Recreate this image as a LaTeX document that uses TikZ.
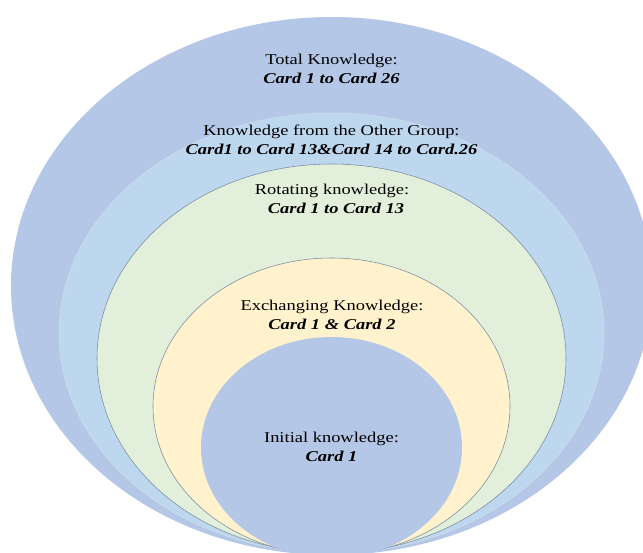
\documentclass[tikz,border=0pt]{standalone}
\usepackage{fontspec}
\setmainfont{Liberation Serif}
\newfontfamily\wideserif[FakeStretch=1.23]{Liberation Serif}
\definecolor{outerblue}{HTML}{B4C7E7}
\definecolor{lightblue}{HTML}{BDD7EE}
\definecolor{palegreen}{HTML}{E2EFDA}
\definecolor{paleyellow}{HTML}{FFF2CC}
\definecolor{rimline}{HTML}{7A8AA3}
\definecolor{softrim}{HTML}{D3DCE8}
\tikzset{
  lbl/.style={align=center, font=\wideserif\fontsize{15}{19}\selectfont, inner sep=0pt, text=black},
  rim/.style={draw=rimline, line width=0.55pt},
}
\newcommand{\crd}[1]{\textbf{\textit{#1}}}
\begin{document}
\begin{tikzpicture}[x=1pt,y=-1pt]
\useasboundingbox (0,0) rectangle (643,553);
\fill[white] (0,0) rectangle (643,553);
\begin{scope}
\clip (0,0) rectangle (643,553);
\fill[outerblue] (331.5,286) ellipse [x radius=320.5pt, y radius=269pt];
\filldraw[fill=lightblue, draw=softrim, line width=0.5pt] (331.5,333) ellipse [x radius=272.5pt, y radius=220pt];
\filldraw[fill=palegreen, rim] (331.5,358.5) ellipse [x radius=234.5pt, y radius=194.5pt];
\filldraw[fill=paleyellow, rim] (331.5,406.5) ellipse [x radius=178.5pt, y radius=148.5pt];
\fill[outerblue] (331.5,447.5) ellipse [x radius=130.5pt, y radius=110.5pt];
\end{scope}
\node[lbl] (total) at (331.5,69) {Total Knowledge:\\ \crd{Card 1 to Card 26}};
\node[lbl] (other) at (331.5,140) {Knowledge from the Other Group:\\ \crd{Card1 to Card 13\&Card 14 to Card.26}};
\node[lbl] (rot) at (332,199) {Rotating knowledge:\\ \hspace*{8pt}\crd{Card 1 to Card 13}};
\node[lbl] (exch) at (332,315) {Exchanging Knowledge:\\ \crd{Card 1 \& Card 2}};
\node[lbl] (init) at (331.5,447) {Initial knowledge:\\ \crd{Card 1}};
\end{tikzpicture}
\end{document}
